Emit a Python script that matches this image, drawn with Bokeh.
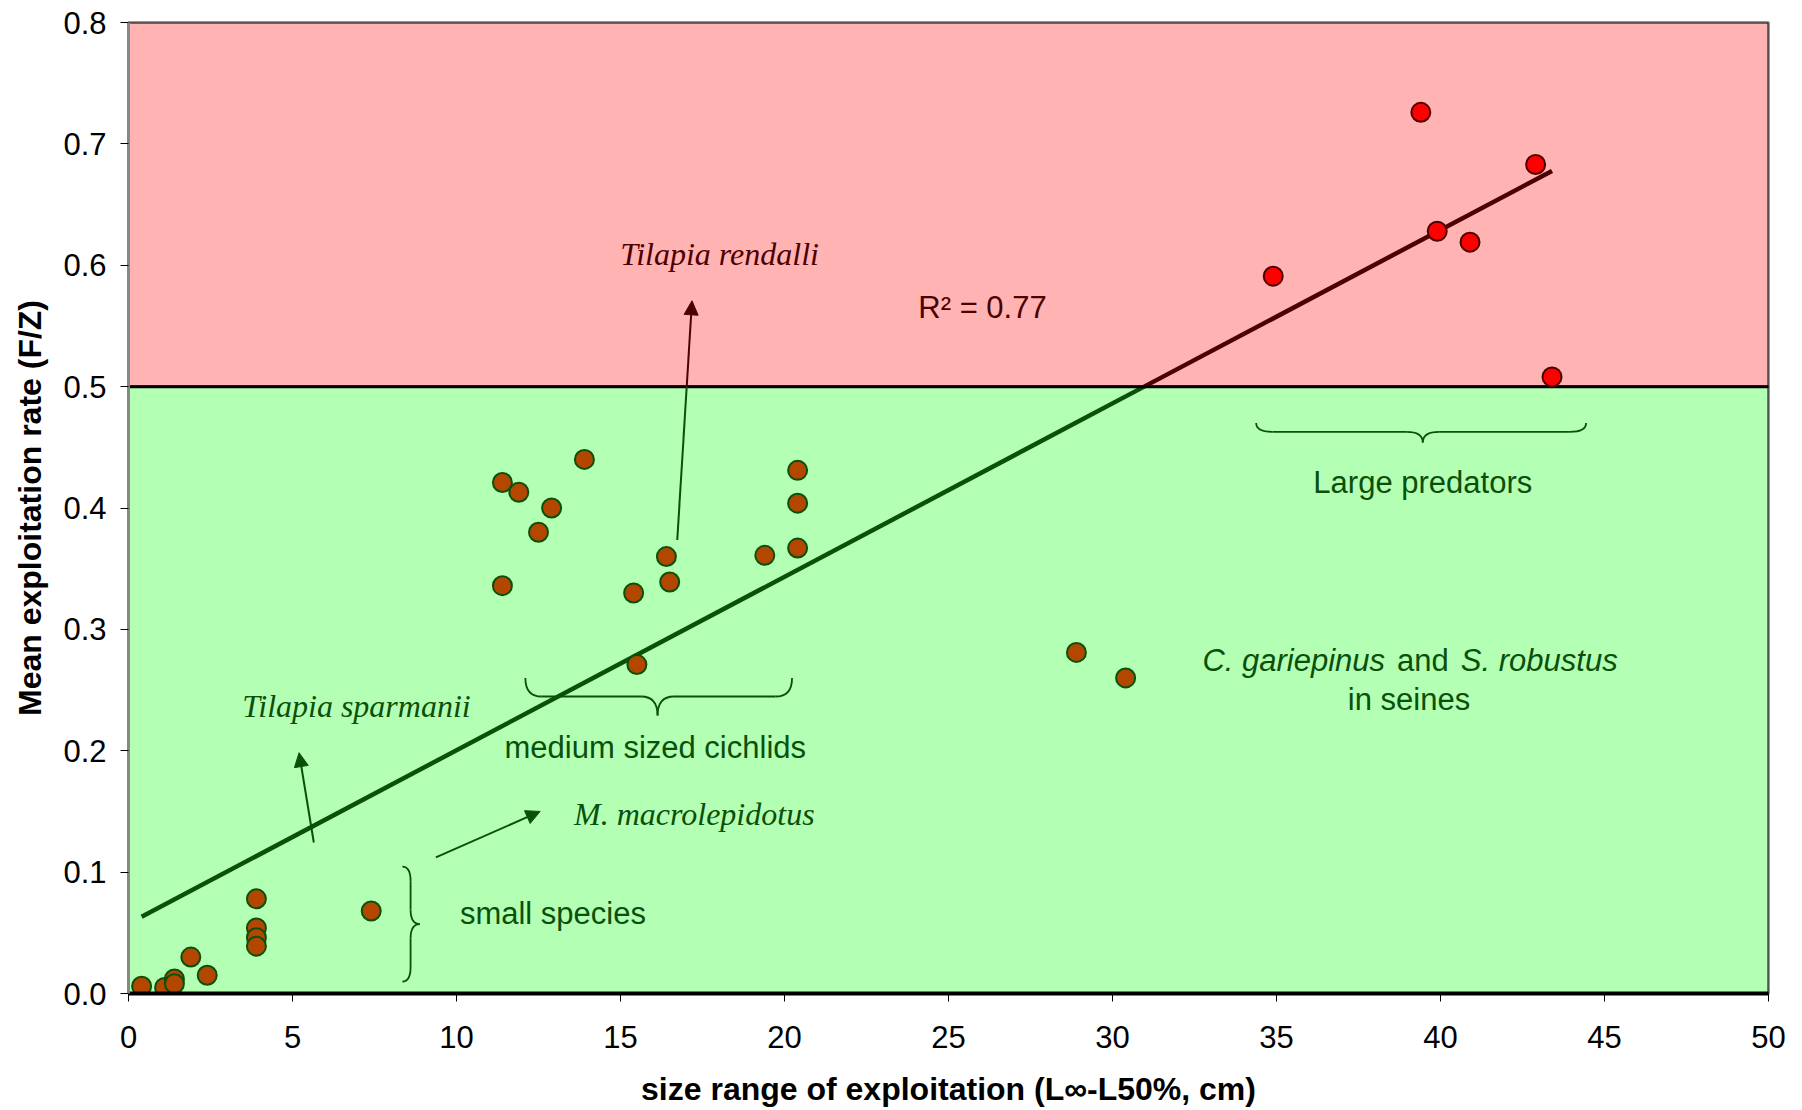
from bokeh.plotting import figure
from bokeh.models import Range1d, FixedTicker, PrintfTickFormatter, Arrow, NormalHead
from bokeh.core.properties import value
from bokeh.embed import file_html
from bokeh.resources import INLINE

# ---------------- data ----------------
x_green = [0.4, 1.1, 1.4, 1.4, 1.9, 2.4, 3.9, 3.9, 3.9, 3.9, 7.4,
           11.4, 11.9, 13.9, 12.9, 12.5, 11.4, 15.4, 16.4, 16.5, 15.5,
           19.4, 20.4, 20.4, 20.4, 28.9, 30.4]
y_green = [0.006, 0.005, 0.012, 0.008, 0.030, 0.015, 0.078, 0.054, 0.046, 0.039, 0.068,
           0.421, 0.413, 0.440, 0.400, 0.380, 0.336, 0.330, 0.360, 0.339, 0.271,
           0.361, 0.431, 0.404, 0.367, 0.281, 0.260]
x_red = [39.4, 42.9, 39.9, 40.9, 34.9, 43.4]
y_red = [0.726, 0.683, 0.628, 0.619, 0.591, 0.508]

fit_slope = 0.01429
fit_intercept = 0.0575
r_squared = 0.77
threshold = 0.5

x_ticks = [0, 5, 10, 15, 20, 25, 30, 35, 40, 45, 50]
y_ticks = [0.0, 0.1, 0.2, 0.3, 0.4, 0.5, 0.6, 0.7, 0.8]

# ---------------- style ----------------
GREEN_BG = "#B3FFB3"
RED_BG = "#FFB3B3"
DKGREEN = "#0A500A"
DKRED = "#4D0000"
SANS = "Liberation Sans"
SERIF = "Liberation Serif"

p = figure(width=1802, height=1110, x_range=Range1d(0, 50), y_range=Range1d(0, 0.8),
           output_backend="svg", toolbar_location=None,
           min_border_left=128, min_border_right=34, min_border_top=22, min_border_bottom=117)
p.grid.visible = False
p.background_fill_color = "white"
p.outline_line_color = "#999999"
p.outline_line_width = 3

# background zones
p.quad(left=[0], right=[50], bottom=[threshold], top=[0.8], fill_color=RED_BG,
       line_color="black", line_width=2)
p.quad(left=[0], right=[50], bottom=[0], top=[threshold], fill_color=GREEN_BG,
       line_color="black", line_width=2)

# regression line, split at threshold
all_x = x_green + x_red
xmin, xmax = min(all_x), max(all_x)
x_cross = (threshold - fit_intercept) / fit_slope
p.line([xmin, x_cross], [fit_intercept + fit_slope * xmin, threshold], line_color=DKGREEN, line_width=4.5)
p.line([x_cross, xmax], [threshold, fit_intercept + fit_slope * xmax], line_color=DKRED, line_width=4.5)

# threshold line
p.line([0, 50], [threshold, threshold], line_color="black", line_width=3)

# ---------------- braces ----------------
def hbrace(x0, x1, xc, y_top, y_mid, y_tip, rx, color):
    segs = [
        (x0, y_top, x0 + rx, y_mid, x0, y_mid),
        (xc - rx, y_mid, xc, y_tip, xc, y_mid),
        (xc, y_tip, xc + rx, y_mid, xc, y_mid),
        (x1 - rx, y_mid, x1, y_top, x1, y_mid),
    ]
    for a, b, c, d, e, f in segs:
        p.quadratic(x0=[a], y0=[b], x1=[c], y1=[d], cx=[e], cy=[f], line_color=color, line_width=1.8)
    p.line([x0 + rx, xc - rx], [y_mid, y_mid], line_color=color, line_width=1.8)
    p.line([xc + rx, x1 - rx], [y_mid, y_mid], line_color=color, line_width=1.8)

def vbrace(y0, y1, yc, x_left, x_mid, x_tip, ry, color):
    segs = [
        (x_left, y0, x_mid, y0 - ry, x_mid, y0),
        (x_mid, yc + ry, x_tip, yc, x_mid, yc),
        (x_tip, yc, x_mid, yc - ry, x_mid, yc),
        (x_mid, y1 + ry, x_left, y1, x_mid, y1),
    ]
    for a, b, c, d, e, f in segs:
        p.quadratic(x0=[a], y0=[b], x1=[c], y1=[d], cx=[e], cy=[f], line_color=color, line_width=1.8)
    p.line([x_mid, x_mid], [y0 - ry, yc + ry], line_color=color, line_width=1.8)
    p.line([x_mid, x_mid], [yc - ry, y1 + ry], line_color=color, line_width=1.8)

hbrace(12.10, 20.23, 16.13, 0.260, 0.2447, 0.229, 0.5, DKGREEN)
hbrace(34.38, 44.44, 39.46, 0.470, 0.4627, 0.454, 0.5, DKGREEN)
vbrace(0.1045, 0.0098, 0.0572, 8.35, 8.60, 8.88, 0.012, DKGREEN)

# ---------------- arrows ----------------
def arrow(xs, ys, xe, ye, color):
    p.add_layout(Arrow(end=NormalHead(size=14, fill_color=color, line_color=color),
                       x_start=xs, y_start=ys, x_end=xe, y_end=ye,
                       line_color=color, line_width=2))

# Tilapia rendalli arrow crosses threshold: green lower part, dark red upper part
r_xs, r_ys, r_xe, r_ye = 16.73, 0.3736, 17.18, 0.5707
r_xc = r_xs + (r_xe - r_xs) * (threshold - r_ys) / (r_ye - r_ys)
p.line([r_xs, r_xc], [r_ys, threshold], line_color=DKGREEN, line_width=2)
arrow(r_xc, threshold, r_xe, r_ye, DKRED)
arrow(5.65, 0.1244, 5.20, 0.1984, DKGREEN)
arrow(9.37, 0.1121, 12.55, 0.150, DKGREEN)

# ---------------- markers ----------------
p.scatter(x_green, y_green, size=19, fill_color="#B34700", line_color=DKGREEN, line_width=2)
p.scatter(x_red, y_red, size=19, fill_color="#FF0000", line_color=DKRED, line_width=2)

# ---------------- texts ----------------
def txt(x, y, s, color, font=SANS, style="normal", size="31px", align="center"):
    p.text(x=[x], y=[y], text=[s], text_color=color, text_font=value(font),
           text_font_style=style, text_font_size=size, text_align=align, text_baseline="middle")

txt(18.02, 0.6095, "Tilapia rendalli", DKRED, SERIF, "italic", "32px")
txt(24.08, 0.565, "R² = 0.77", DKRED, align="left")
txt(39.46, 0.421, "Large predators", DKGREEN)
txt(38.31, 0.2746, "C. gariepinus", DKGREEN, style="italic", align="right")
txt(39.46, 0.2746, "and", DKGREEN)
txt(40.62, 0.2746, "S. robustus", DKGREEN, style="italic", align="left")
txt(39.04, 0.2424, "in seines", DKGREEN)
txt(16.06, 0.203, "medium sized cichlids", DKGREEN)
txt(6.95, 0.237, "Tilapia sparmanii", DKGREEN, SERIF, "italic", "32px")
txt(17.25, 0.148, "M. macrolepidotus", DKGREEN, SERIF, "italic", "32px")
txt(12.94, 0.0657, "small species", DKGREEN)

# ---------------- axes ----------------
p.xaxis.ticker = FixedTicker(ticks=x_ticks)
p.yaxis.ticker = FixedTicker(ticks=y_ticks)
p.yaxis.formatter = PrintfTickFormatter(format="%.1f")
for ax in (p.xaxis, p.yaxis):
    ax.major_label_text_font = SANS
    ax.major_label_text_font_size = "31px"
    ax.major_label_text_color = "black"
    ax.axis_label_text_font = SANS
    ax.axis_label_text_font_style = "bold"
    ax.axis_label_text_font_size = "32px"
    ax.axis_label_text_color = "black"
    ax.minor_tick_line_color = None
    ax.major_tick_in = 0
    ax.major_tick_out = 8
    ax.major_tick_line_color = "black"
    ax.major_tick_line_width = 1

p.xaxis.axis_label = "size range of exploitation (L∞-L50%, cm)"
p.yaxis.axis_label = "Mean exploitation rate (F/Z)"
p.xaxis.axis_line_color = "black"
p.xaxis.axis_line_width = 4
p.yaxis.axis_line_color = "#888888"
p.yaxis.axis_line_width = 3
p.xaxis.major_label_standoff = 24
p.xaxis.axis_label_standoff = 20
p.yaxis.major_label_standoff = 14
p.yaxis.axis_label_standoff = 12

open("out.html", "w").write(file_html(p, INLINE))
